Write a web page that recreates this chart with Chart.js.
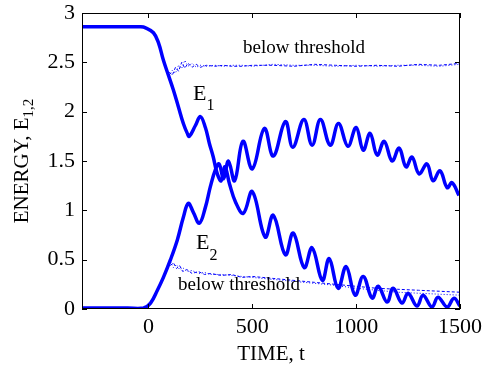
<!DOCTYPE html>
<html>
<head>
<meta charset="utf-8">
<script src="https://cdn.jsdelivr.net/npm/chart.js@4.4.0/dist/chart.umd.min.js"></script>
<style>
html, body { margin: 0; padding: 0; background: #fff; }
</style>
</head>
<body>
<canvas id="energyChart" width="483" height="370"></canvas>
<script>
// axis ticks
const timeTicks = [0, 500, 1000, 1500];
const energyTicks = [0, 0.5, 1, 1.5, 2, 2.5, 3];

// E1 (thick line)
const e1Time = [-320, -100, -40, -14, 24, 48, 72, 96, 120, 144, 168, 187, 197, 226, 250, 274, 293, 312, 330, 350, 368, 390, 420, 457,
  500, 562, 601, 659, 697, 750, 788, 837, 870, 913, 952, 995, 1034, 1077, 1106, 1149, 1178, 1221, 1250, 1293, 1322, 1365, 1394, 1438, 1471, 1500];
const e1Energy = [2.86, 2.86, 2.86, 2.85, 2.80, 2.70, 2.52, 2.37, 2.22, 2.05, 1.88, 1.78, 1.75, 1.86, 1.95, 1.84, 1.68, 1.54, 1.38, 1.30, 1.44, 1.27, 1.08, 0.97,
  1.19, 0.73, 0.95, 0.55, 0.77, 0.42, 0.62, 0.29, 0.51, 0.21, 0.43, 0.14, 0.33, 0.11, 0.23, 0.07, 0.21, 0.06, 0.16, 0.03, 0.14, 0.02, 0.12, 0.02, 0.11, 0.03];

// E2 (thick line)
const e2Time = [-320, -100, -24, 10, 43, 72, 106, 139, 168, 192, 216, 245, 274, 298, 322, 340, 362, 385, 415, 455,
  500, 558, 601, 659, 695, 748, 788, 828, 875, 915, 960, 1000, 1034, 1067, 1101, 1135, 1173, 1207, 1240, 1269, 1303, 1341, 1370, 1404, 1438, 1462, 1495];
const e2Energy = [0.01, 0.01, 0.01, 0.06, 0.19, 0.32, 0.50, 0.70, 0.93, 1.07, 0.98, 0.87, 1.03, 1.24, 1.41, 1.47, 1.32, 1.50, 1.30, 1.70,
  1.42, 1.83, 1.55, 1.90, 1.64, 1.92, 1.66, 1.92, 1.66, 1.88, 1.65, 1.84, 1.61, 1.78, 1.56, 1.70, 1.50, 1.63, 1.44, 1.54, 1.37, 1.47, 1.30, 1.40, 1.23, 1.28, 1.15];

// below threshold runs (thin dotted lines)
const upperTime = [100, 115, 130, 145, 160, 175, 190, 210, 230, 250, 280, 320, 360, 400, 450, 500, 600, 700, 800, 900, 1000, 1100, 1200, 1300, 1400, 1500];
const upperA = [2.36, 2.42, 2.39, 2.47, 2.44, 2.52, 2.46, 2.49, 2.45, 2.47, 2.46, 2.47, 2.46, 2.47, 2.47, 2.46, 2.48, 2.47, 2.47, 2.46, 2.47, 2.46, 2.47, 2.47, 2.46, 2.48];
const upperB = [2.40, 2.37, 2.45, 2.41, 2.50, 2.44, 2.49, 2.45, 2.48, 2.45, 2.47, 2.46, 2.47, 2.46, 2.46, 2.47, 2.47, 2.46, 2.48, 2.47, 2.46, 2.47, 2.46, 2.48, 2.47, 2.49];
const lowerTime = [106, 120, 135, 150, 165, 185, 210, 240, 270, 300, 350, 400, 450, 500, 600, 700, 800, 900, 1000, 1100, 1200, 1300, 1400, 1500];
const lowerA = [0.48, 0.42, 0.45, 0.40, 0.42, 0.38, 0.39, 0.36, 0.37, 0.35, 0.35, 0.34, 0.33, 0.32, 0.30, 0.28, 0.26, 0.24, 0.21, 0.19, 0.17, 0.16, 0.15, 0.14];
const lowerB = [0.44, 0.47, 0.41, 0.44, 0.38, 0.40, 0.36, 0.38, 0.35, 0.36, 0.34, 0.35, 0.32, 0.33, 0.31, 0.29, 0.27, 0.25, 0.23, 0.21, 0.20, 0.19, 0.18, 0.17];

const SERIF = '"Liberation Serif", "Times New Roman", serif';
const BLUE = '#0000ff';

function pairs(xs, ys) {
    return xs.map((x, i) => ({ x: x, y: ys[i] }));
}

function thick(xs, ys) {
    return { data: pairs(xs, ys), borderColor: BLUE, borderWidth: 3.5, tension: 0.4, pointRadius: 0 };
}

function thin(xs, ys, dash) {
    return { data: pairs(xs, ys), borderColor: BLUE, borderWidth: 1, borderDash: dash, tension: 0, pointRadius: 0 };
}

// text with a subscript, drawn at baseline
function subText(ctx, x, y, main, sub, size, subSize, drop) {
    ctx.font = size + 'px ' + SERIF;
    ctx.fillText(main, x, y);
    const w = ctx.measureText(main).width;
    ctx.font = subSize + 'px ' + SERIF;
    ctx.fillText(sub, x + w, y + drop);
    return w + ctx.measureText(sub).width;
}

// box, inward ticks, labels and axis titles
const framePlugin = {
    id: 'frame',
    afterDraw(chart) {
        const { ctx, chartArea: a, scales: { x, y } } = chart;
        ctx.save();
        ctx.strokeStyle = '#000';
        ctx.lineWidth = 1;
        ctx.beginPath();
        timeTicks.forEach(v => {
            const px = Math.round(x.getPixelForValue(v)) + 0.5;
            ctx.moveTo(px, a.bottom); ctx.lineTo(px, a.bottom - 5);
            ctx.moveTo(px, a.top); ctx.lineTo(px, a.top + 5);
        });
        energyTicks.forEach(v => {
            const py = Math.round(y.getPixelForValue(v)) + 0.5;
            ctx.moveTo(a.left, py); ctx.lineTo(a.left + 5, py);
            ctx.moveTo(a.right, py); ctx.lineTo(a.right - 5, py);
        });
        ctx.stroke();
        ctx.strokeRect(a.left + 0.5, a.top + 0.5, a.right - a.left - 1, a.bottom - a.top - 1);

        ctx.fillStyle = '#000';
        ctx.textBaseline = 'alphabetic';
        ctx.textAlign = 'center';
        ctx.font = '19px ' + SERIF;
        ctx.fillText('below threshold', 304, 53);
        ctx.fillText('below threshold', 239, 290);

        ctx.textAlign = 'left';
        subText(ctx, 193, 100, 'E', '1', 22, 16, 10);
        subText(ctx, 196, 249, 'E', '2', 22, 16, 11);

        // x title
        ctx.textAlign = 'center';
        ctx.font = '21px ' + SERIF;
        ctx.fillText('TIME, t', (a.left + a.right) / 2, 360);

        // y title, rotated
        ctx.save();
        ctx.translate(28, (a.top + a.bottom) / 2);
        ctx.rotate(-Math.PI / 2);
        ctx.textAlign = 'left';
        ctx.font = '21px ' + SERIF;
        const mainW = ctx.measureText('ENERGY, E').width;
        ctx.font = '15px ' + SERIF;
        const total = mainW + ctx.measureText('1,2').width;
        subText(ctx, -total / 2, 0, 'ENERGY, E', '1,2', 21, 15, 5);
        ctx.restore();

        ctx.restore();
    }
};

new Chart(document.getElementById('energyChart').getContext('2d'), {
    type: 'line',
    data: {
        datasets: [
            thin(upperTime, upperA, [1, 2]),
            thin(upperTime, upperB, [3, 2]),
            thin(lowerTime, lowerA, [1, 2]),
            thin(lowerTime, lowerB, [3, 2]),
            thick(e1Time, e1Energy),
            thick(e2Time, e2Energy)
        ]
    },
    options: {
        responsive: false,
        animation: false,
        devicePixelRatio: 1,
        layout: { padding: { left: 0, right: 23, top: 13, bottom: 0 } },
        plugins: { legend: { display: false }, tooltip: { enabled: false } },
        scales: {
            x: {
                type: 'linear',
                min: -320,
                max: 1500,
                grid: { display: false, drawTicks: false },
                border: { display: false },
                afterBuildTicks: s => { s.ticks = timeTicks.map(v => ({ value: v })); },
                afterFit: s => { s.height = 61; s.paddingLeft = 0; s.paddingRight = 0; },
                ticks: { color: '#000', padding: 5, maxRotation: 0, callback: v => String(v), font: { family: SERIF, size: 22 } }
            },
            y: {
                min: 0,
                max: 3,
                grid: { display: false, drawTicks: false },
                border: { display: false },
                afterBuildTicks: s => { s.ticks = energyTicks.map(v => ({ value: v })); },
                afterFit: s => { s.width = 82; s.paddingTop = 0; s.paddingBottom = 0; },
                ticks: { color: '#000', padding: 7, callback: v => String(v), font: { family: SERIF, size: 22 } }
            }
        }
    },
    plugins: [framePlugin]
});
</script>
</body>
</html>
